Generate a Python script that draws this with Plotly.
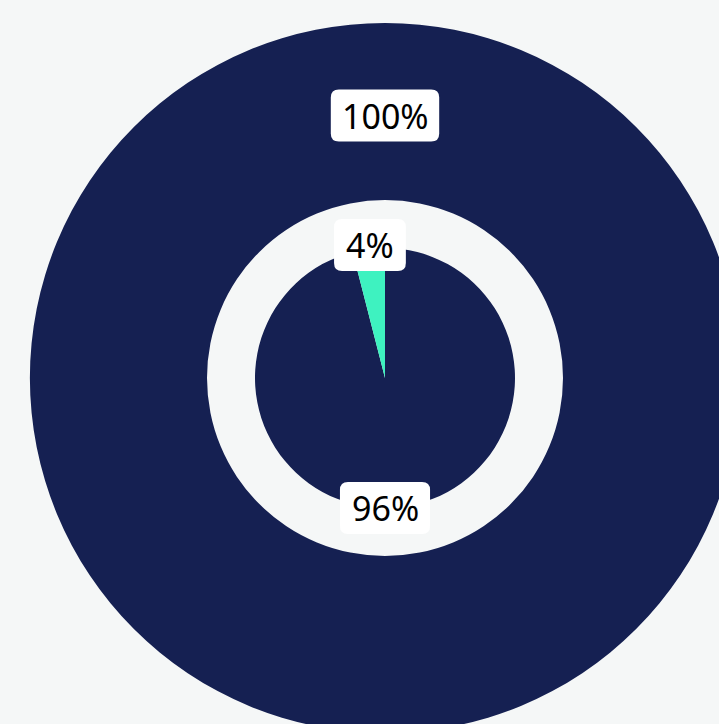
import math
import plotly.graph_objects as go

# ---- data ----
outer_labels = ["Total"]
outer_values = [100]
inner_labels = ["Segment B", "Segment A"]
inner_values = [96, 4]

NAVY = "#152052"
TEAL = "#3EF2C0"
BG = "#F5F7F7"

# ---- layout geometry (pixels) ----
W, H = 770, 756
CX, CY = 385, 378
R_OUT, R_HOLE, R_IN = 355, 178, 130


def px(x):
    return x / W


def py(y):
    return 1 - y / H


fig = go.Figure()
fig.add_trace(go.Pie(
    labels=outer_labels, values=outer_values, hole=R_HOLE / R_OUT,
    sort=False, direction="clockwise", rotation=0,
    marker=dict(colors=[NAVY], line=dict(width=0)),
    textinfo="none", hoverinfo="none", showlegend=False,
    domain=dict(x=[px(CX - R_OUT), px(CX + R_OUT)], y=[py(CY + R_OUT), py(CY - R_OUT)]),
))
fig.add_trace(go.Pie(
    labels=inner_labels, values=inner_values,
    sort=False, direction="clockwise", rotation=0,
    marker=dict(colors=[NAVY, TEAL], line=dict(width=0)),
    textinfo="none", hoverinfo="none", showlegend=False,
    domain=dict(x=[px(CX - R_IN), px(CX + R_IN)], y=[py(CY + R_IN), py(CY - R_IN)]),
))

# ---- labels with rounded white boxes ----
FONT = dict(family="Noto Sans, Open Sans, sans-serif", size=34, color="#000000")


def rounded_path(w, h, r):
    x0, x1, y0, y1 = -w / 2, w / 2, -h / 2, h / 2
    return (f"M{x0 + r},{y0} L{x1 - r},{y0} Q{x1},{y0} {x1},{y0 + r} "
            f"L{x1},{y1 - r} Q{x1},{y1} {x1 - r},{y1} L{x0 + r},{y1} "
            f"Q{x0},{y1} {x0},{y1 - r} L{x0},{y0 + r} Q{x0},{y0} {x0 + r},{y0} Z")


def pct_text(v, tot):
    return f"{round(100 * v / tot)}%"


labels = []
tot_o = sum(outer_values)
r_mid = (R_OUT + R_HOLE) / 2 - 4
labels.append((pct_text(outer_values[0], tot_o), CX, CY - r_mid))

tot_i = sum(inner_values)
r_lab = R_IN + 2
# small slice (last, clockwise): midpoint angle measured clockwise from 12 o'clock
cw_mid = (inner_values[0] + 0.5 * inner_values[1]) / tot_i * 360
ang = 90 - cw_mid
labels.append((pct_text(inner_values[1], tot_i),
               CX + r_lab * math.cos(math.radians(ang)) + 1.5,
               CY - r_lab * math.sin(math.radians(ang)) - 2))
labels.append((pct_text(inner_values[0], tot_i), CX, CY + r_lab - 2))

shapes, annotations = [], []
for text, x, y in labels:
    w = 18.3 * (len(text) - 1) + 26.5 + 27
    shapes.append(dict(
        type="path", xref="paper", yref="paper", xsizemode="pixel", ysizemode="pixel",
        xanchor=px(x), yanchor=py(y), path=rounded_path(w, 52, 8),
        fillcolor="#FFFFFF", line=dict(width=0), layer="above",
    ))
    annotations.append(dict(
        text=text, x=px(x), y=py(y), xref="paper", yref="paper",
        xanchor="center", yanchor="middle", showarrow=False, font=FONT,
    ))

fig.update_layout(
    width=W, height=H, autosize=False,
    margin=dict(l=0, r=0, t=0, b=0),
    paper_bgcolor=BG, plot_bgcolor=BG,
    shapes=shapes, annotations=annotations,
)

fig.write_html(
    "out.html",
    config={"displayModeBar": False},
    post_script="document.body.style.margin='0';document.body.style.overflow='hidden';"
                "document.body.style.background='" + BG + "';",
)
